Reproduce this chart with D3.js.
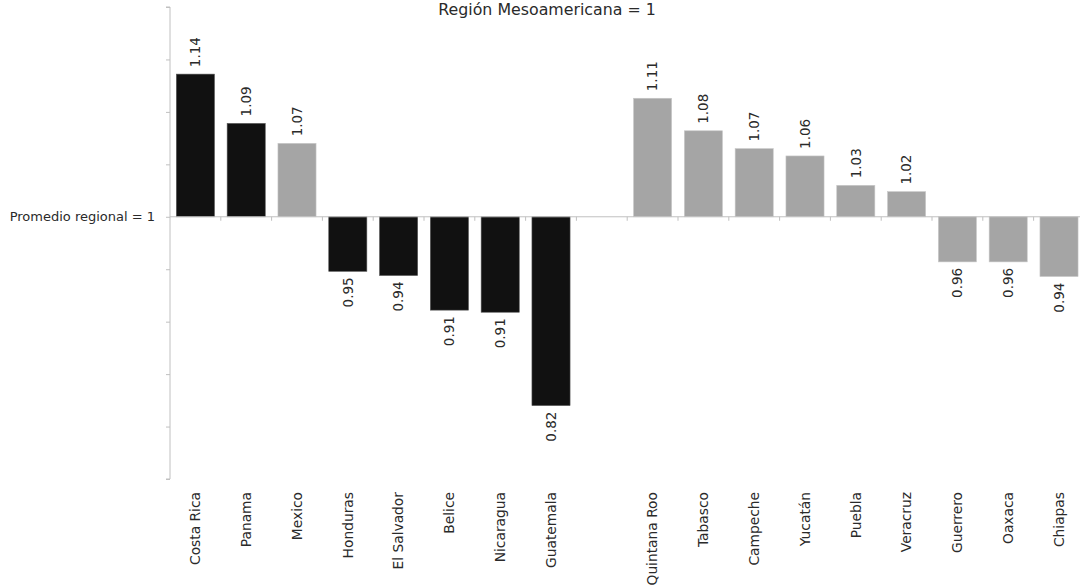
<!DOCTYPE html>
<html>
<head>
<meta charset="utf-8">
<script src="https://cdn.jsdelivr.net/npm/d3@7"></script>
<style>
  html, body { margin: 0; padding: 0; background: #fff; }
  svg { display: block; }
  text { font-family: "DejaVu Sans", Verdana, sans-serif; fill: #2a2a2a; }
</style>
</head>
<body>
<svg id="chart" width="1080" height="587"></svg>
<script>
// ---- data ----
const categories = ["Costa Rica","Panama","Mexico","Honduras","El Salvador","Belice","Nicaragua","Guatemala","",
  "Quintana Roo","Tabasco","Campeche","Yucatán","Puebla","Veracruz","Guerrero","Oaxaca","Chiapas"];
const values = [1.136, 1.089, 1.07, 0.948, 0.944, 0.911, 0.909, 0.82, null,
  1.113, 1.082, 1.065, 1.058, 1.03, 1.024, 0.957, 0.957, 0.943];
const labels = ["1.14","1.09","1.07","0.95","0.94","0.91","0.91","0.82","",
  "1.11","1.08","1.07","1.06","1.03","1.02","0.96","0.96","0.94"];
const groups = ["country","country","mexico","country","country","country","country","country","",
  "state","state","state","state","state","state","state","state","state"];
const yTicks = [1.2, 1.15, 1.1, 1.05, 1.0, 0.95, 0.9, 0.85, 0.8, 0.75];
const baselineValue = 1.0;
const title = "Región Mesoamericana = 1";
const baselineLabel = "Promedio regional = 1";

// ---- layout ----
(function () {
const svg = d3.select("#chart");
const mLeft = 170, mTop = 7, mBottom = 479;
const slot = 50.8;
const mRight = mLeft + slot * categories.length;

const x = d3.scaleBand().domain(d3.range(categories.length)).range([mLeft, mRight]).paddingInner(0.25).paddingOuter(0.125);
const y = d3.scaleLinear().domain([0.75, 1.2]).range([mBottom, mTop]);
const colors = { country: "#111111", mexico: "#a5a5a5", state: "#a5a5a5" };
const axisColor = "#c0c0c0";

// y axis
const yAxis = svg.append("g").attr("transform", `translate(${mLeft},0)`)
  .call(d3.axisLeft(y).tickValues(yTicks).tickSize(4).tickFormat(""));
yAxis.select(".domain").attr("stroke", axisColor).attr("d", `M-4,${mTop}H0V${mBottom}H-4`);
yAxis.selectAll(".tick line").attr("stroke", axisColor);

// bars
const data = categories.map((c, i) => ({ c, i, v: values[i], label: labels[i], g: groups[i] })).filter(d => d.v != null);
const yb = y(baselineValue);

svg.append("g").selectAll("rect").data(data).join("rect")
  .attr("x", d => x(d.i))
  .attr("width", x.bandwidth())
  .attr("y", d => Math.min(y(d.v), yb))
  .attr("height", d => Math.abs(y(d.v) - yb))
  .attr("fill", d => colors[d.g])
  .attr("stroke", d => d.g === "country" ? "#555" : "#c8c8c8")
  .attr("stroke-width", 0.6);

// baseline axis with boundary ticks
const xb = svg.append("g");
xb.append("line").attr("x1", mLeft).attr("x2", 1080).attr("y1", yb).attr("y2", yb)
  .attr("stroke", axisColor).attr("stroke-width", 1);
xb.selectAll("line.tk").data(d3.range(1, categories.length)).join("line").attr("class", "tk")
  .attr("x1", k => mLeft + k * slot).attr("x2", k => mLeft + k * slot)
  .attr("y1", yb).attr("y2", yb + 4).attr("stroke", axisColor);

// baseline label
svg.append("text").attr("x", 155).attr("y", yb).attr("dy", "0.35em")
  .attr("text-anchor", "end").style("font-size", "13px").text(baselineLabel);

// value labels
svg.append("g").selectAll("text").data(data).join("text")
  .attr("transform", d => {
    const cx = x(d.i) + x.bandwidth() / 2;
    const yy = d.v >= baselineValue ? y(d.v) - 7 : y(d.v) + 6;
    return `translate(${cx},${yy}) rotate(-90)`;
  })
  .attr("dy", "0.35em")
  .attr("text-anchor", d => d.v >= baselineValue ? "start" : "end")
  .style("font-size", "13.5px")
  .text(d => d.label);

// category labels
svg.append("g").selectAll("text").data(categories.map((c, i) => ({ c, i })).filter(d => d.c)).join("text")
  .attr("transform", d => `translate(${x(d.i) + x.bandwidth() / 2},${mBottom + 13}) rotate(-90)`)
  .attr("dy", "0.35em")
  .attr("text-anchor", "end")
  .style("font-size", "13.8px")
  .text(d => d.c);

// title
svg.append("text").attr("x", 547).attr("y", 15).attr("text-anchor", "middle")
  .style("font-size", "15.8px").text(title);
})();
</script>
</body>
</html>
